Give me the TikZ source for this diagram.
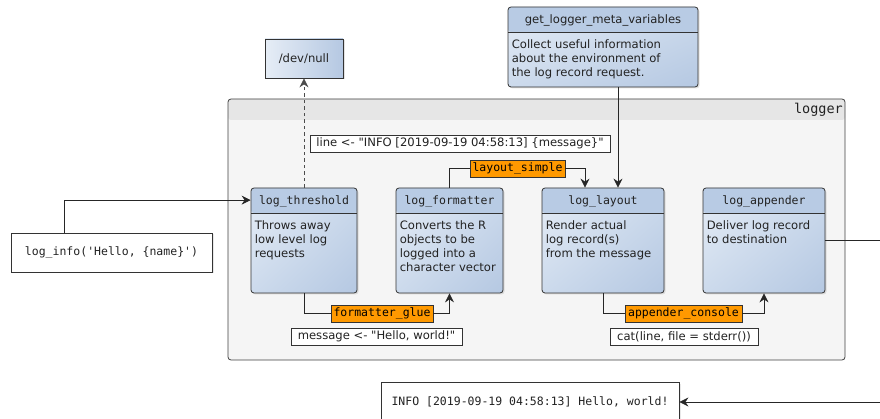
\documentclass[tikz,border=0pt]{standalone}
\usetikzlibrary{arrows.meta,shadows,shadings,calc}
\font\sansf="DejaVu Sans" at 11.6pt
\font\monof="DejaVu Sans Mono" at 11.5pt
\font\monobig="DejaVu Sans Mono" at 13.5pt
\def\uscore{\char95\relax}
\def\obr{\char123\relax}
\def\cbr{\char125\relax}
\definecolor{hdrblue}{HTML}{B8CBE4}
\definecolor{bodyL}{HTML}{E6EDF6}
\definecolor{bodyM}{HTML}{CCDAEC}
\definecolor{bodyD}{HTML}{B5C8E2}
\definecolor{orangelbl}{HTML}{FF9900}
\definecolor{lanebg}{HTML}{F5F5F5}
\definecolor{lanehdr}{HTML}{E6E6E6}
\definecolor{ink}{HTML}{222222}
\tikzset{
  lane/.style={draw=black!80, line width=0.8pt, rounded corners=3pt, inner sep=0pt,
    upper left=bodyL, lower right=bodyD, upper right=bodyM, lower left=bodyM,
    drop shadow={opacity=0.22, shadow xshift=1.5pt, shadow yshift=-1.5pt},
    path picture={
      \fill[hdrblue] (path picture bounding box.north west) rectangle ([yshift=-25pt]path picture bounding box.north east);
      \draw[black!80, line width=0.8pt] ([yshift=-25pt]path picture bounding box.north west) -- ([yshift=-25pt]path picture bounding box.north east);
    }},
  hdrm/.style={font=\monof, text=ink, inner sep=0pt},
  hdrs/.style={font=\sansf, text=ink, inner sep=0pt},
  bodyt/.style={font={\sansf\baselineskip=14pt}, text=ink, align=left, inner sep=0pt, anchor=north west},
  plainbox/.style={draw=black!80, line width=0.8pt, fill=white, inner sep=0pt, text=ink,
    drop shadow={opacity=0.18, shadow xshift=1.5pt, shadow yshift=-1.5pt}},
  orlbl/.style={draw=black!80, line width=0.8pt, fill=orangelbl, font=\monof, text=black, inner sep=0pt, minimum height=17pt},
  txtbox/.style={draw=black!80, line width=0.7pt, fill=white, font=\sansf, text=ink, inner sep=0pt, minimum height=17pt},
  conn/.style={draw=black!85, line width=0.8pt},
  arr/.style={conn, -{Stealth[length=9pt,width=9pt,inset=3pt]}},
}
\begin{document}
\begin{tikzpicture}[x=1pt,y=-1pt]
\useasboundingbox (0,0) rectangle (880,419);

% logger container
\node[draw=black!75, line width=0.8pt, fill=lanebg, rounded corners=3pt, inner sep=0pt,
  minimum width=617pt, minimum height=261pt,
  path picture={\fill[lanehdr] (path picture bounding box.north west) rectangle ([yshift=-21pt]path picture bounding box.north east);}]
  (logger) at (536.5,229.5) {};
\node[font=\monobig, text=ink, inner sep=0pt, anchor=base east] (loggerlbl) at (843,113.5) {logger};

% top boxes
\node[draw=black!80, line width=0.8pt, left color=bodyL, right color=bodyD, inner sep=0pt,
  minimum width=78pt, minimum height=39pt, font=\sansf, text=ink,
  drop shadow={opacity=0.22, shadow xshift=1.5pt, shadow yshift=-1.5pt}]
  (devnull) at (304,58.5) {/dev/null};

\node[lane, minimum width=190pt, minimum height=80pt] (meta) at (603,47) {};
\node[hdrs, anchor=base] (meta-h) at ([yshift=-17pt]meta.north) {get\uscore logger\uscore meta\uscore variables};
\node[bodyt] (meta-b) at ([xshift=4pt,yshift=-31.5pt]meta.north west)
  {\vrule height10pt width0pt Collect useful information\\about the environment of\\the log record request.};

% text boxes
\node[txtbox, minimum width=300pt] (linebox) at (460,143.5) {line <- "INFO [2019-09-19 04:58:13] \obr message\cbr"};
\node[txtbox, minimum width=171pt] (msgbox) at (376.5,336.5) {message <- "Hello, world!"};
\node[txtbox, minimum width=148pt] (catbox) at (684,336.5) {cat(line, file = stderr())};

% orange labels
\node[orlbl, minimum width=95pt] (ls) at (517.5,168.5) {layout\uscore simple};
\node[orlbl, minimum width=102pt] (fg) at (382,313.5) {formatter\uscore glue};
\node[orlbl, minimum width=117pt] (ac) at (683.5,313.5) {appender\uscore console};

% lanes
\node[lane, minimum width=106pt, minimum height=105pt] (thr) at (304,240.5) {};
\node[hdrm, anchor=base] (thr-h) at ([yshift=-17pt]thr.north) {log\uscore threshold};
\node[bodyt] (thr-b) at ([xshift=4pt,yshift=-32pt]thr.north west)
  {\vrule height10pt width0pt Throws away\\low level log\\requests};

\node[lane, minimum width=107pt, minimum height=105pt] (fmt) at (449.5,240.5) {};
\node[hdrm, anchor=base] (fmt-h) at ([yshift=-17pt]fmt.north) {log\uscore formatter};
\node[bodyt] (fmt-b) at ([xshift=4pt,yshift=-32pt]fmt.north west)
  {\vrule height10pt width0pt Converts the R\\objects to be\\logged into a\\character vector};

\node[lane, minimum width=122pt, minimum height=105pt] (lay) at (603,240.5) {};
\node[hdrm, anchor=base] (lay-h) at ([yshift=-17pt]lay.north) {log\uscore layout};
\node[bodyt] (lay-b) at ([xshift=4pt,yshift=-32pt]lay.north west)
  {\vrule height10pt width0pt Render actual\\log record(s)\\from the message};

\node[lane, minimum width=122pt, minimum height=105pt] (app) at (764,240.5) {};
\node[hdrm, anchor=base] (app-h) at ([yshift=-17pt]app.north) {log\uscore appender};
\node[bodyt] (app-b) at ([xshift=4pt,yshift=-32pt]app.north west)
  {\vrule height10pt width0pt Deliver log record\\to destination};

% input / output
\node[plainbox, minimum width=201pt, minimum height=39pt, font=\monof] (loginfo) at (111.5,252.5)
  {log\uscore info('Hello, \obr name\cbr')};
\node[plainbox, minimum width=298pt, minimum height=40pt, font=\monof] (info) at (530,402)
  {INFO [2019-09-19 04:58:13] Hello, world!};

\coordinate (off) at (900,0);

% connectors
\draw[arr] ($(loginfo.north west)+(54,0)$) |- ([yshift=-12.5pt]thr.north west);
\draw[arr, dash pattern=on 3.5pt off 3pt, draw=black!70] (thr.north) -- (devnull.south);
\draw[conn] (fmt.north) |- (ls.west);
\draw[arr] (ls.east) -| ([xshift=-18pt]lay.north);
\draw[arr] ([xshift=15pt]meta.south) -- ([xshift=15pt]lay.north);
\draw[conn] (thr.south) |- (fg.west);
\draw[arr] (fg.east) -| (fmt.south);
\draw[conn] (lay.south) |- (ac.west);
\draw[arr] (ac.east) -| (app.south);
\draw[arr] (app.east) -- (app.east -| off) |- (info.east);
\end{tikzpicture}
\end{document}
